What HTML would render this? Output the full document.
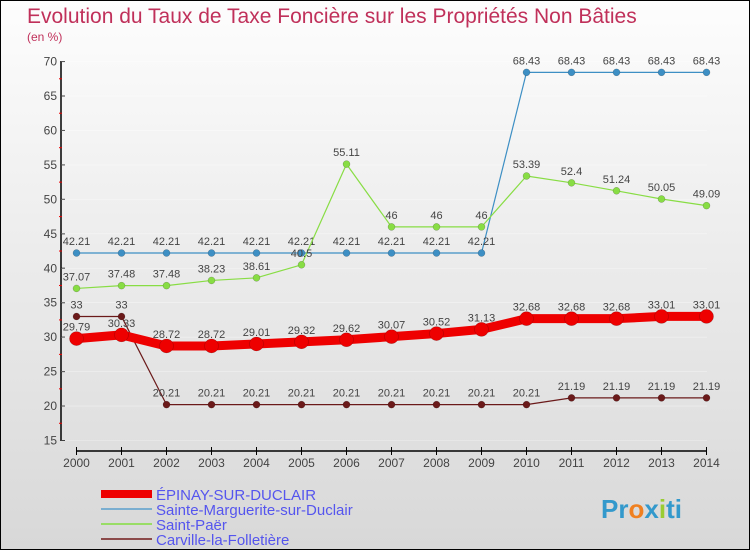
<!DOCTYPE html>
<html><head><meta charset="utf-8"><style>
body{margin:0;}
#c{width:750px;height:550px;position:relative;overflow:hidden;border:1px solid #000;box-sizing:border-box;background:linear-gradient(#fdfdfd,#d8d8d8);font-family:"Liberation Sans",sans-serif;}
</style></head><body>
<div id="c">
<svg id="s" width="750" height="550" xmlns="http://www.w3.org/2000/svg">
<text x="26" y="22" font-size="21" fill="#c0305a">Evolution du Taux de Taxe Foncière sur les Propriétés Non Bâties</text>
<text x="26" y="40" font-size="12" fill="#c0305a">(en %)</text>
<g id="g"></g>
<text x="600" y="517" font-size="26" font-weight="bold" fill="#3399cc">Pr<tspan fill="#f08020">o</tspan>x<tspan fill="#99cc33">i</tspan>ti</text>
</svg>
</div>
<script>
const years=[2000,2001,2002,2003,2004,2005,2006,2007,2008,2009,2010,2011,2012,2013,2014];
const yTicks=[15,20,25,30,35,40,45,50,55,60,65,70];
const epinay=[29.79,30.33,28.72,28.72,29.01,29.32,29.62,30.07,30.52,31.13,32.68,32.68,32.68,33.01,33.01];
const sainteMarguerite=[42.21,42.21,42.21,42.21,42.21,42.21,42.21,42.21,42.21,42.21,68.43,68.43,68.43,68.43,68.43];
const saintPaer=[37.07,37.48,37.48,38.23,38.61,40.5,55.11,46,46,46,53.39,52.4,51.24,50.05,49.09];
const carville=[33,33,20.21,20.21,20.21,20.21,20.21,20.21,20.21,20.21,20.21,21.19,21.19,21.19,21.19];
const NS="http://www.w3.org/2000/svg";
const g=document.getElementById('g');
const X=i=>75.5+i*45;
const Y=v=>439.5-(v-15)*6.89;
function el(t,a){const e=document.createElementNS(NS,t);for(const k in a)e.setAttribute(k,a[k]);g.appendChild(e);return e;}
function fmt(v){return String(v);}
// axes
let a=el('line',{x1:60,y1:60,x2:60,y2:440,stroke:'#000','stroke-width':1.5});


a=el('line',{x1:75,y1:450,x2:706,y2:450,stroke:'#000','stroke-width':1.5});


yTicks.forEach(v=>{
 el('line',{x1:60,y1:Y(v),x2:64,y2:Y(v),stroke:'#000'});
 if(v<70) el('line',{x1:58,y1:Y(v+2.5),x2:61,y2:Y(v+2.5),stroke:'#e00'});
 const t=el('text',{x:56,y:Y(v)+4,'font-size':12,fill:'#444','text-anchor':'end'});t.textContent=v;
 
 
 el('line',{x1:60,y1:Y(v),x2:706,y2:Y(v),stroke:'#fff','stroke-width':0.6,opacity:0.5});
});
years.forEach((y,i)=>{
 el('line',{x1:X(i),y1:446,x2:X(i),y2:454,stroke:'#000'});
 const t=el('text',{x:X(i),y:466,'font-size':12,fill:'#444','text-anchor':'middle'});t.textContent=y;
 
 
});
function series(data,color,w,r,name,labelColor){
 const p=el('polyline',{points:data.map((v,i)=>X(i)+','+Y(v)).join(' '),fill:'none',stroke:color,'stroke-width':w,'stroke-linejoin':'round'});
 
 
 data.forEach((v,i)=>{
  const c=el('circle',{cx:X(i),cy:Y(v),r:r,fill:color,stroke:'rgba(0,0,0,0.3)','stroke-width':0.5});
  
  
  const t=el('text',{x:X(i),y:Y(v)-8,'font-size':11,fill:'#444','text-anchor':'middle'});t.textContent=fmt(v);
  
  
 });
}
series(sainteMarguerite,'#3d8fc4',1.2,3.5,'sainte-marguerite');
series(saintPaer,'#88dd44',1.2,3.5,'saint-paer');
series(carville,'#6b1a1a',1.2,3.5,'carville');
series(epinay,'#ee0000',9,7,'epinay');
const leg=[['ÉPINAY-SUR-DUCLAIR','#ee0000',8],['Sainte-Marguerite-sur-Duclair','#7aaed0',2],['Saint-Paër','#99dd66',2],['Carville-la-Folletière','#8b4a4a',2]];
leg.forEach((l,i)=>{
 const y=493+i*15;
 const ln=el('line',{x1:100,y1:y,x2:151,y2:y,stroke:l[1],'stroke-width':l[2]});
 
 
 const t=el('text',{x:155,y:y+6,'font-size':15,fill:'#5555ee'});t.textContent=l[0];
 
 
});
</script>
</body></html>
